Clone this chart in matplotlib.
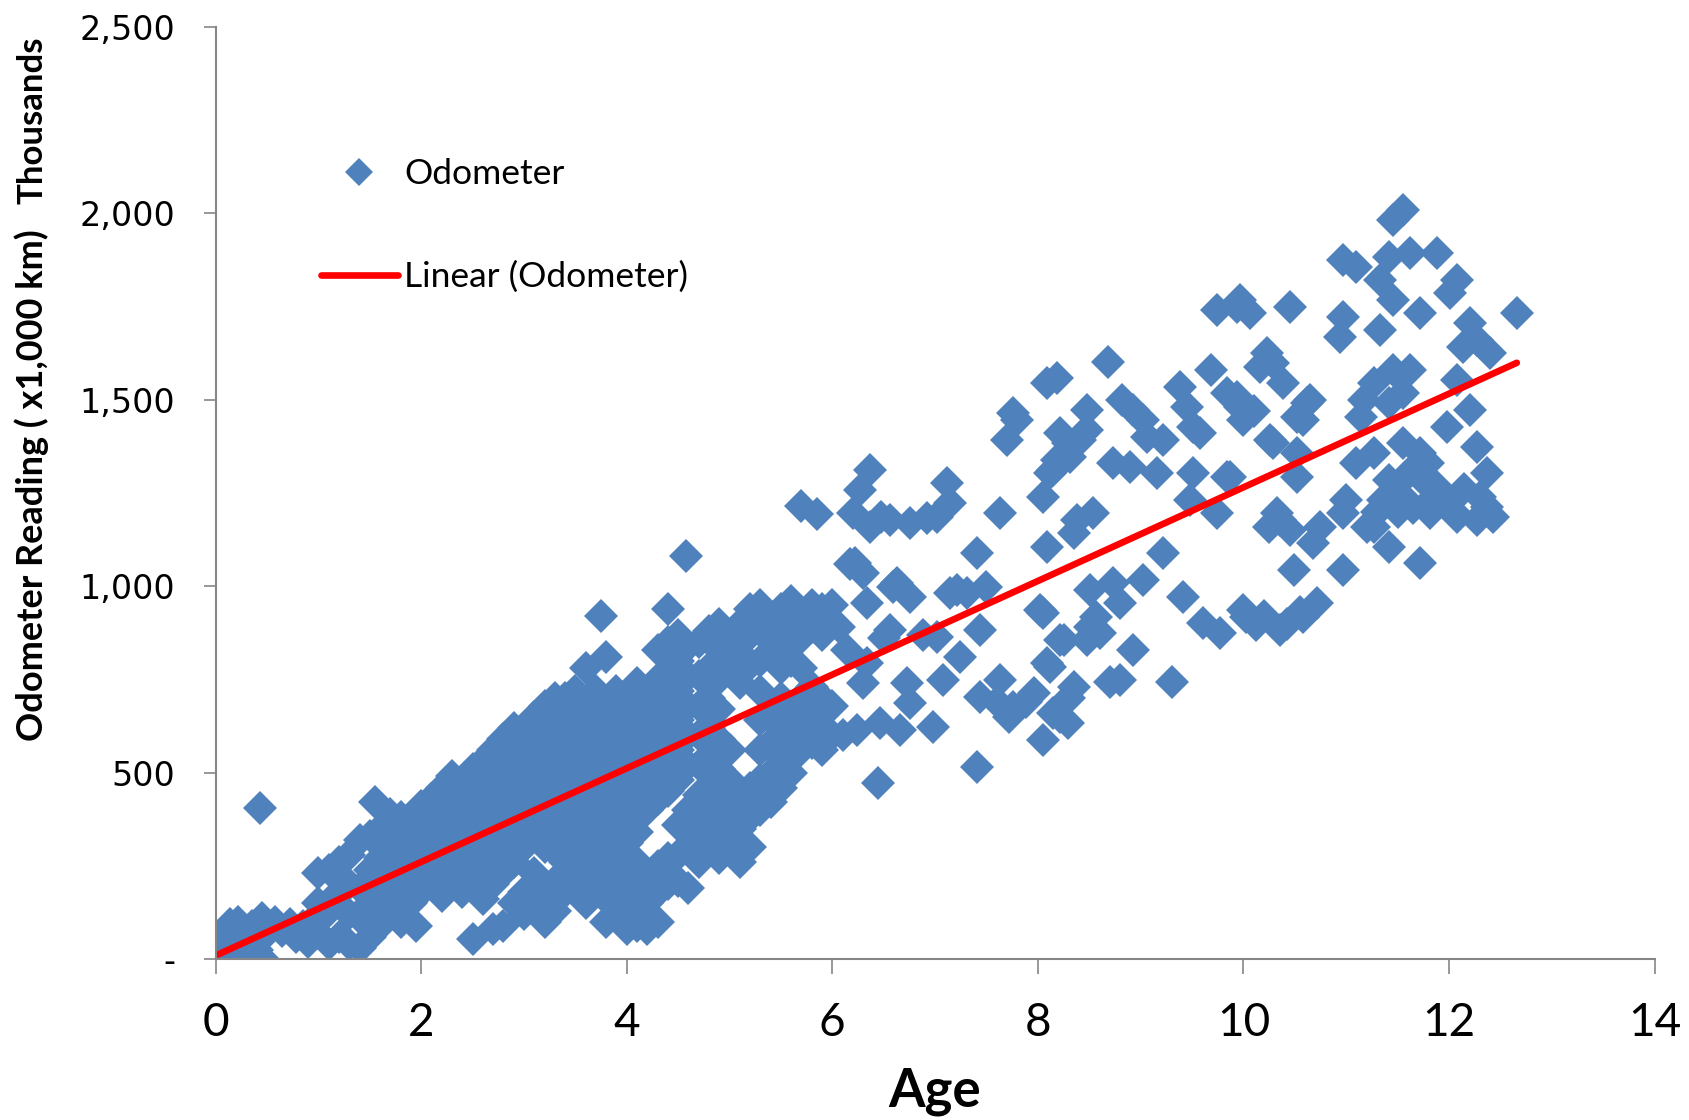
"""
Odometer reading vs. vehicle age, with linear trend.
"""

import matplotlib

matplotlib.use("Agg")
import matplotlib.pyplot as plt
import numpy as np
from matplotlib.lines import Line2D
from matplotlib.ticker import FuncFormatter

# Vehicle age (years) and odometer reading (x1,000 km), grouped by age band

# under 1 year
age_new = [0.02, 0.05, 0.06, 0.08, 0.1, 0.12, 0.14, 0.16, 0.18, 0.2, 0.22, 0.25, 0.27, 0.3, 0.32, 0.35,
           0.38, 0.4, 0.43, 0.45, 0.46, 0.48, 0.52, 0.58, 0.65, 0.72, 0.78, 0.85, 0.9, 0.95]
odo_new = [5, 40, 0, 75, 20, 55, 95, 10, 60, 35, 100, 5, 70, 45, 15, 90,
           55, 25, 405, 110, 0, 65, 85, 100, 75, 95, 60, 90, 45, 105]

# 1 to 3 years
age_young = [1.0, 1.0, 1.0, 1.1, 1.1, 1.1, 1.2, 1.2, 1.2, 1.3, 1.3, 1.3, 1.3, 1.4, 1.4, 1.4, 1.4,
             1.5, 1.5, 1.5, 1.5, 1.55, 1.6, 1.6, 1.6, 1.6, 1.7, 1.7, 1.7, 1.7,
             1.8, 1.8, 1.8, 1.8, 1.8, 1.9, 1.9, 1.9, 1.9, 1.95,
             2.0, 2.0, 2.0, 2.0, 2.1, 2.1, 2.1, 2.1, 2.2, 2.2, 2.2, 2.2, 2.2,
             2.3, 2.3, 2.3, 2.3, 2.3, 2.4, 2.4, 2.4, 2.4, 2.4, 2.5, 2.5, 2.5, 2.5, 2.5, 2.5,
             2.6, 2.6, 2.6, 2.6, 2.6, 2.6, 2.7, 2.7, 2.7, 2.7, 2.7, 2.7, 2.7,
             2.8, 2.8, 2.8, 2.8, 2.8, 2.8, 2.8, 2.9, 2.9, 2.9, 2.9, 2.9, 2.9, 2.9]
odo_young = [70, 150, 230, 40, 130, 240, 60, 180, 260, 40, 120, 200, 280, 30, 110, 190, 320,
             60, 150, 240, 330, 420, 90, 180, 270, 350, 120, 210, 300, 390,
             100, 170, 250, 330, 380, 150, 230, 300, 360, 90,
             180, 260, 340, 410, 200, 280, 360, 430, 170, 240, 320, 400, 460,
             200, 280, 350, 430, 490, 180, 250, 330, 400, 470, 55, 210, 290, 360, 440, 510,
             160, 240, 320, 390, 460, 530, 80, 200, 270, 350, 430, 500, 560,
             90, 230, 300, 380, 450, 520, 590, 150, 260, 330, 410, 480, 550, 620]

# 3 to 4 years
age_mid = [3.0, 3.0, 3.0, 3.0, 3.0, 3.0, 3.0,
           3.1, 3.1, 3.1, 3.1, 3.1, 3.1, 3.1, 3.1,
           3.2, 3.2, 3.2, 3.2, 3.2, 3.2, 3.2, 3.2,
           3.3, 3.3, 3.3, 3.3, 3.3, 3.3, 3.3, 3.3, 3.3,
           3.4, 3.4, 3.4, 3.4, 3.4, 3.4, 3.4, 3.4,
           3.5, 3.5, 3.5, 3.5, 3.5, 3.5, 3.5, 3.5,
           3.6, 3.6, 3.6, 3.6, 3.6, 3.6, 3.6, 3.6, 3.6,
           3.7, 3.7, 3.7, 3.7, 3.7, 3.7, 3.7, 3.7, 3.75,
           3.8, 3.8, 3.8, 3.8, 3.8, 3.8, 3.8, 3.8, 3.8, 3.8,
           3.9, 3.9, 3.9, 3.9, 3.9, 3.9, 3.9, 3.9, 3.9]
odo_mid = [120, 180, 300, 370, 440, 510, 580,
           150, 230, 330, 400, 470, 540, 610, 650,
           100, 180, 300, 370, 440, 510, 580, 680,
           130, 210, 290, 360, 430, 500, 570, 640, 700,
           180, 260, 340, 410, 480, 550, 620, 700,
           200, 290, 360, 430, 500, 570, 640, 720,
           150, 240, 320, 390, 460, 540, 610, 680, 780,
           190, 270, 350, 420, 500, 570, 650, 720, 920,
           100, 160, 240, 310, 380, 460, 530, 600, 680, 810,
           120, 200, 280, 360, 430, 510, 580, 650, 720]

# 4 to 5 years
age_four = [4.0, 4.0, 4.0, 4.0, 4.0, 4.0, 4.0, 4.0, 4.0,
            4.1, 4.1, 4.1, 4.1, 4.1, 4.1, 4.1, 4.1, 4.1,
            4.2, 4.2, 4.2, 4.2, 4.2, 4.2, 4.2, 4.2,
            4.3, 4.3, 4.3, 4.3, 4.3, 4.3, 4.3, 4.3, 4.3,
            4.4, 4.4, 4.4, 4.4, 4.4, 4.4, 4.4, 4.4, 4.4,
            4.5, 4.5, 4.5, 4.5, 4.5, 4.5, 4.5, 4.5, 4.5, 4.58,
            4.6, 4.6, 4.6, 4.6, 4.6, 4.6, 4.6, 4.6,
            4.7, 4.7, 4.7, 4.7, 4.7, 4.7, 4.7, 4.7,
            4.8, 4.8, 4.8, 4.8, 4.8, 4.8, 4.8, 4.8,
            4.9, 4.9, 4.9, 4.9, 4.9, 4.9, 4.9, 4.9, 4.9]
odo_four = [80, 150, 230, 310, 390, 470, 540, 620, 700,
            90, 170, 260, 340, 420, 500, 580, 660, 740,
            80, 150, 220, 400, 480, 560, 640, 720,
            100, 180, 250, 430, 510, 590, 670, 750, 830,
            200, 270, 450, 530, 610, 690, 770, 850, 940,
            210, 280, 360, 480, 560, 640, 720, 800, 870, 1080,
            190, 300, 400, 520, 600, 680, 760, 840,
            260, 340, 440, 520, 600, 680, 760, 850,
            300, 380, 460, 540, 620, 700, 780, 880,
            270, 350, 430, 510, 590, 670, 750, 830, 900]

# 5 to 6 years
age_five = [5.0, 5.0, 5.0, 5.0, 5.0, 5.0,
            5.1, 5.1, 5.1, 5.1, 5.1, 5.1,
            5.2, 5.2, 5.2, 5.2, 5.2, 5.2,
            5.3, 5.3, 5.3, 5.3, 5.3, 5.3, 5.3, 5.3,
            5.4, 5.4, 5.4, 5.4, 5.4, 5.4,
            5.5, 5.5, 5.5, 5.5, 5.5, 5.5, 5.5,
            5.6, 5.6, 5.6, 5.6, 5.6, 5.6,
            5.7, 5.7, 5.7, 5.7, 5.7, 5.7, 5.7,
            5.8, 5.8, 5.8, 5.8, 5.8, 5.85,
            5.9, 5.9, 5.9, 5.9, 5.9,
            6.0, 6.0, 6.0, 6.0]
odo_five = [320, 400, 480, 560, 800, 870,
            260, 350, 430, 740, 820, 900,
            300, 380, 460, 790, 870, 940,
            400, 480, 560, 640, 720, 800, 880, 950,
            420, 500, 580, 660, 820, 900,
            460, 540, 620, 700, 780, 860, 940,
            500, 580, 650, 800, 880, 960,
            560, 630, 700, 780, 860, 930, 1215,
            580, 650, 730, 890, 950, 1195,
            560, 620, 700, 870, 940,
            600, 680, 900, 950]

# 6 to 8 years
age_late = [6.07, 6.1, 6.14, 6.17, 6.2, 6.22, 6.24, 6.27, 6.3, 6.3, 6.34, 6.34, 6.37, 6.37,
            6.44, 6.46, 6.47, 6.5, 6.56, 6.56, 6.59, 6.63, 6.66, 6.73, 6.76, 6.76, 6.76, 6.88,
            6.92, 6.98, 7.02, 7.02, 7.08, 7.12, 7.15, 7.15, 7.21, 7.24, 7.31, 7.41, 7.41, 7.44,
            7.44, 7.5, 7.63, 7.63, 7.7, 7.76, 7.76, 7.8, 7.96, 7.6, 7.72, 7.88]
odo_late = [891, 600, 829, 1060, 1196, 1062, 614, 1258, 1035, 740, 955, 794, 1312, 1159,
            472, 633, 1186, 860, 1178, 882, 998, 1009, 614, 740, 1170, 971, 687, 870,
            1183, 622, 1186, 864, 748, 1277, 1223, 982, 990, 810, 982, 515, 1089, 882,
            703, 998, 1196, 748, 1392, 676, 1465, 1446, 714, 690, 650, 690]

# 8 to 11 years
age_old = [8.02, 8.05, 8.05, 8.05, 8.09, 8.09, 8.09, 8.12, 8.12, 8.15, 8.19, 8.19, 8.22, 8.22,
           8.22, 8.25, 8.29, 8.29, 8.31, 8.35, 8.35, 8.38, 8.41, 8.48, 8.48, 8.48, 8.51, 8.51,
           8.54, 8.57, 8.6, 8.68, 8.7, 8.73, 8.73, 8.8, 8.8, 8.82, 8.9, 8.93, 8.93, 9.02, 9.02,
           9.06, 9.16, 9.22, 9.22, 9.31, 9.38, 9.41, 9.45, 9.48, 9.51, 9.51, 9.58, 9.61, 9.68, 9.74,
           9.74, 9.77, 9.84, 9.84, 9.87, 9.94, 9.94, 9.97, 9.97, 10.0, 10.0,
           10.03, 10.06, 10.1, 10.12, 10.16, 10.23, 10.26, 10.29, 10.29, 10.33, 10.36, 10.36, 10.39,
           10.45, 10.45, 10.49, 10.52, 10.52, 10.52, 10.58, 10.58, 10.62, 10.65, 10.68, 10.72, 10.75,
           10.94, 10.97, 10.97, 10.97, 10.97, 11.0,
           8.15, 8.3, 10.2, 10.42, 10.55, 10.25]
odo_old = [936, 1239, 928, 587, 1545, 1105, 794, 1304, 783, 1312, 1558, 1339, 1411, 856,
           649, 856, 1384, 633, 1347, 1143, 730, 1178, 1392, 1473, 1419, 856, 990, 891,
           1196, 917, 874, 1601, 743, 1330, 1009, 955, 748, 1499, 1320, 1473, 829, 1446, 1017,
           1400, 1304, 1392, 1089, 743, 1534, 971, 1481, 1231, 1427, 1304, 1411, 901, 1580, 1741,
           1196, 874, 1518, 1293, 1293, 1749, 1507, 1768, 1481, 1446, 936,
           917, 1733, 1469, 896, 1588, 1625, 1392, 1599, 1384, 1196, 1178, 883, 1545,
           1151, 1749, 1043, 1454, 1357, 1293, 1446, 917, 1491, 1499, 1116, 955, 1159,
           1668, 1875, 1722, 1196, 1043, 1231,
           660, 700, 920, 900, 930, 1160]

# over 11 years
age_oldest = [11.1, 11.1, 11.14, 11.17, 11.27, 11.27, 11.27, 11.33, 11.33, 11.36, 11.42, 11.42, 11.42,
              11.42, 11.46, 11.46, 11.46, 11.55, 11.55, 11.55, 11.55, 11.62, 11.62, 11.72, 11.72, 11.72,
              11.75, 11.82, 11.88, 11.88, 11.94, 11.98, 12.01, 12.08, 12.08, 12.08, 12.14, 12.2, 12.2,
              12.27, 12.27, 12.27, 12.37, 12.37, 12.4, 12.43, 12.66,
              11.5, 11.6, 11.65, 11.8, 11.85, 12.0, 12.05, 12.15, 12.3, 11.3, 11.2]
odo_oldest = [1856, 1330, 1454, 1499, 1545, 1357, 1159, 1821, 1687, 1231, 1883, 1491, 1285,
              1105, 1982, 1768, 1580, 2009, 1518, 1384, 1239, 1894, 1580, 1733, 1357, 1062,
              1285, 1196, 1894, 1266, 1231, 1427, 1786, 1821, 1553, 1186, 1642, 1706, 1473,
              1660, 1373, 1178, 1212, 1304, 1625, 1186, 1733,
              1200, 1300, 1210, 1330, 1240, 1230, 1200, 1260, 1240, 1200, 1160]

y_ticks = [0, 500, 1000, 1500, 2000, 2500]
x_ticks = [0, 2, 4, 6, 8, 10, 12, 14]

BLUE = "#4F81BD"
RED = "#FF0000"
AXIS_GREY = "#868686"
BODY_FONT = ["Lato", "DejaVu Sans"]

age = np.array(age_new + age_young + age_mid + age_four + age_five + age_late + age_old + age_oldest)
odometer = np.array(odo_new + odo_young + odo_mid + odo_four + odo_five + odo_late + odo_old + odo_oldest)

# least-squares trend, drawn over the observed age range
slope, intercept = np.polyfit(age, odometer, 1)
trend_x = np.array([age.min(), age.max()])
trend_y = slope * trend_x + intercept

fig = plt.figure(figsize=(16.9, 11.2), dpi=100)
ax = fig.add_axes([0.1276, 0.1437, 0.8514, 0.8322])

ax.plot(age, odometer, linestyle="none", marker="D", markersize=17,
        color=BLUE, markeredgewidth=0, label="Odometer")
ax.plot(trend_x, trend_y, color=RED, linewidth=4.8, solid_capstyle="round",
        label="Linear (Odometer)")

ax.set_xlim(0, 14)
ax.set_ylim(0, 2500)
ax.set_xticks(x_ticks)
ax.set_yticks(y_ticks)
ax.yaxis.set_major_formatter(FuncFormatter(lambda v, _: "-" if v == 0 else f"{int(v):,}"))

for side in ["top", "right"]:
    ax.spines[side].set_visible(False)
for side in ["left", "bottom"]:
    ax.spines[side].set_color(AXIS_GREY)
    ax.spines[side].set_linewidth(1.5)

ax.tick_params(axis="y", direction="out", length=9, width=1.2, color=AXIS_GREY, pad=20)
ax.tick_params(axis="x", direction="out", length=11, width=1.2, color=AXIS_GREY, pad=20)
for lbl in ax.get_yticklabels():
    lbl.set_fontfamily("DejaVu Sans")
    lbl.set_fontsize(24)
for lbl in ax.get_xticklabels():
    lbl.set_fontfamily(BODY_FONT)
    lbl.set_fontsize(33)

fig.text(0.553, 0.012, "Age", fontsize=38, fontweight="bold", family=BODY_FONT,
         ha="center", va="baseline")
fig.text(0.019, 0.567, "Odometer Reading ( x1,000 km)", fontsize=26, fontweight="bold",
         family=BODY_FONT, rotation=90, ha="center", va="center")
fig.text(0.019, 0.893, "Thousands", fontsize=25, fontweight="bold",
         family=BODY_FONT, rotation=90, ha="center", va="center")

handles = [
    Line2D([], [], linestyle="none", marker="D", markersize=14, color=BLUE, markeredgewidth=0),
    Line2D([], [], color=RED, linewidth=4.8, solid_capstyle="round"),
]
ax.legend(handles, ["Odometer", "Linear (Odometer)"], loc="upper left",
          bbox_to_anchor=(0.19, 0.859), bbox_transform=fig.transFigure,
          frameon=False, prop={"family": BODY_FONT, "size": 25.5},
          handlelength=2.16, handletextpad=0.18, labelspacing=2.0, borderpad=0, borderaxespad=0)

plt.savefig("out.png", dpi=100)
plt.close()
